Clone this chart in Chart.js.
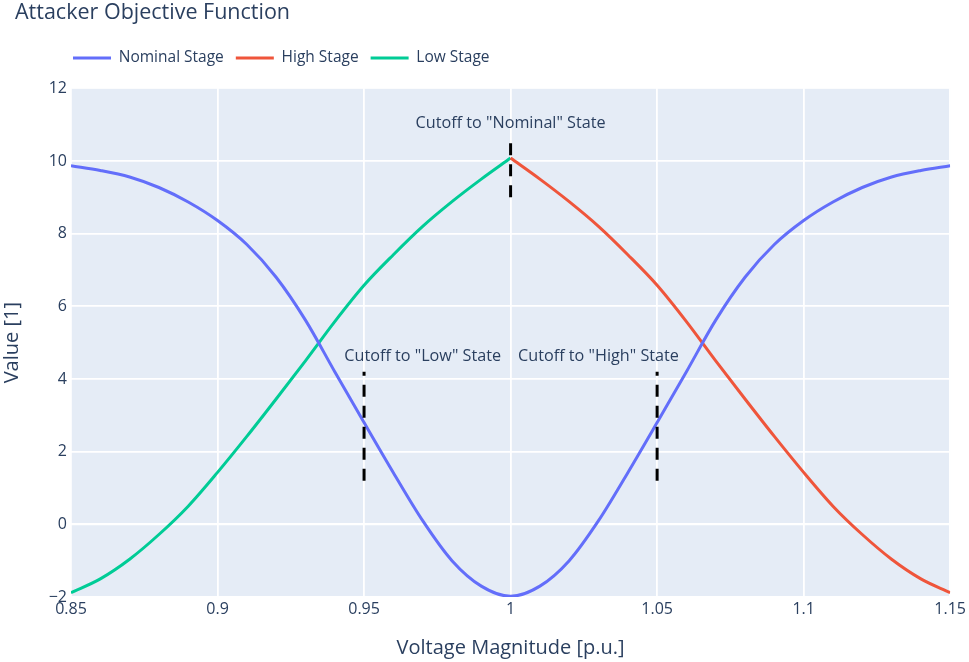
<!DOCTYPE html>
<html>
<head>
<meta charset="utf-8">
<script src="https://cdn.jsdelivr.net/npm/chart.js@4.4.1/dist/chart.umd.min.js"></script>
<style>
  html, body { margin: 0; padding: 0; background: #fff; }
</style>
</head>
<body>
<canvas id="objectiveChart" width="969" height="662"></canvas>
<script>
// Data
const voltage = [0.85, 0.86, 0.87, 0.88, 0.89, 0.90, 0.91, 0.92, 0.93, 0.94, 0.95, 0.96, 0.97, 0.98, 0.99, 1.00,
                 1.01, 1.02, 1.03, 1.04, 1.05, 1.06, 1.07, 1.08, 1.09, 1.10, 1.11, 1.12, 1.13, 1.14, 1.15];
const nominalStage = [9.87, 9.74, 9.56, 9.27, 8.87, 8.36, 7.7, 6.8, 5.62, 4.2, 2.8, 1.42, 0.1, -1.0, -1.7, -1.98,
                      -1.7, -1.0, 0.1, 1.42, 2.8, 4.2, 5.62, 6.8, 7.7, 8.36, 8.87, 9.27, 9.56, 9.74, 9.87];

const lowVoltage = [0.85, 0.86, 0.87, 0.88, 0.89, 0.90, 0.91, 0.92, 0.93, 0.94, 0.95, 0.96, 0.97, 0.98, 0.99, 1.00];
const lowStage = [-1.88, -1.5, -0.96, -0.28, 0.5, 1.43, 2.42, 3.45, 4.5, 5.58, 6.58, 7.42, 8.2, 8.88, 9.5, 10.08];

const highVoltage = [1.00, 1.01, 1.02, 1.03, 1.04, 1.05, 1.06, 1.07, 1.08, 1.09, 1.10, 1.11, 1.12, 1.13, 1.14, 1.15];
const highStage = [10.08, 9.5, 8.88, 8.2, 7.42, 6.58, 5.58, 4.5, 3.45, 2.42, 1.43, 0.5, -0.28, -0.96, -1.5, -1.88];

// cutoff markers (dashed vertical lines)
const cutoffX = [0.95, 1.05, 1.0];
const cutoffFrom = [1.2, 1.2, 9.0];
const cutoffTo = [4.2, 4.2, 10.7];

// annotation texts
const noteText = ['Cutoff to "Low" State', 'Cutoff to "High" State', 'Cutoff to "Nominal" State'];
const noteX = [0.97, 1.03, 1.0];
const noteY = [4.62, 4.62, 11.04];

const xTicks = [0.85, 0.9, 0.95, 1, 1.05, 1.1, 1.15];
const yTicks = [-2, 0, 2, 4, 6, 8, 10, 12];

const textColor = '#2a3f5f';
const fontFamily = "'Open Sans', sans-serif";

const toPoints = (xs, ys) => xs.map((x, i) => ({ x: x, y: ys[i] }));

const cutoffSets = cutoffX.map((x, i) => ({
  label: 'cutoff' + i,
  data: toPoints([x, x], [cutoffFrom[i], cutoffTo[i]]),
  borderColor: '#000',
  borderWidth: 3,
  borderDash: [12, 9],
  pointRadius: 0,
  order: -1
}));

// plot background
const plotBackground = {
  id: 'plotBackground',
  beforeDraw(chart) {
    const { ctx, chartArea: a } = chart;
    ctx.save();
    ctx.fillStyle = '#fff';
    ctx.fillRect(0, 0, chart.width, chart.height);
    ctx.fillStyle = '#E5ECF6';
    ctx.fillRect(a.left, a.top, a.right - a.left, a.bottom - a.top);
    ctx.restore();
  }
};

// put title and legend where the reference has them
const placeBoxes = {
  id: 'placeBoxes',
  afterLayout(chart) {
    const t = chart.titleBlock;
    const th = t.bottom - t.top;
    t.top = 13 - th / 2; t.bottom = t.top + th;
    t.left = 15; t.right = chart.width;
    const l = chart.legend;
    const lh = l.bottom - l.top;
    const pad = l.options.labels.padding;
    l.top = 58 - pad - l.options.labels.font.size / 2; l.bottom = l.top + lh;
    l.left = 73 - pad; l.right = chart.width;
  }
};

const notes = {
  id: 'notes',
  afterDatasetsDraw(chart) {
    const { ctx, scales } = chart;
    ctx.save();
    ctx.font = '16.2px ' + fontFamily;
    ctx.fillStyle = textColor;
    ctx.textAlign = 'center';
    ctx.textBaseline = 'middle';
    noteText.forEach((txt, i) => {
      ctx.fillText(txt, scales.x.getPixelForValue(noteX[i]), scales.y.getPixelForValue(noteY[i]));
    });
    ctx.restore();
  }
};

const ctx = document.getElementById('objectiveChart').getContext('2d');

new Chart(ctx, {
  type: 'line',
  data: {
    datasets: [
      {
        label: 'Nominal Stage',
        data: toPoints(voltage, nominalStage),
        borderColor: '#636efa',
        backgroundColor: '#636efa',
        borderWidth: 3,
        pointRadius: 0,
        cubicInterpolationMode: 'monotone'
      },
      {
        label: 'High Stage',
        data: toPoints(highVoltage, highStage),
        borderColor: '#EF553B',
        backgroundColor: '#EF553B',
        borderWidth: 3,
        pointRadius: 0,
        cubicInterpolationMode: 'monotone'
      },
      {
        label: 'Low Stage',
        data: toPoints(lowVoltage, lowStage),
        borderColor: '#00cc96',
        backgroundColor: '#00cc96',
        borderWidth: 3,
        pointRadius: 0,
        cubicInterpolationMode: 'monotone'
      },
      ...cutoffSets
    ]
  },
  options: {
    responsive: false,
    animation: false,
    layout: { padding: { top: 25, right: 18, left: 0, bottom: 0 } },
    plugins: {
      title: {
        display: true,
        text: 'Attacker Objective Function',
        align: 'start',
        color: textColor,
        font: { family: fontFamily, size: 21.5, weight: 'normal' },
        padding: 0
      },
      legend: {
        display: true,
        align: 'start',
        labels: {
          usePointStyle: true,
          pointStyle: 'line',
          pointStyleWidth: 38,
          padding: 12,
          color: textColor,
          font: { family: fontFamily, size: 15.5 },
          filter: item => item.datasetIndex < 3
        }
      },
      tooltip: { enabled: false }
    },
    scales: {
      x: {
        type: 'linear',
        min: 0.85,
        max: 1.15,
        afterBuildTicks: scale => { scale.ticks = xTicks.map(v => ({ value: v })); },
        afterFit: scale => { scale.height = 65; },
        ticks: {
          color: textColor,
          font: { family: fontFamily, size: 16 },
          padding: 3,
          maxRotation: 0,
          callback: v => String(v)
        },
        grid: { color: '#fff', lineWidth: 1.8, drawTicks: false },
        border: { display: false },
        title: {
          display: true,
          text: 'Voltage Magnitude [p.u.]',
          color: textColor,
          font: { family: fontFamily, size: 20 },
          padding: { top: 0, bottom: 2 }
        }
      },
      y: {
        min: -2,
        max: 12,
        afterBuildTicks: scale => { scale.ticks = yTicks.map(v => ({ value: v })); },
        afterFit: scale => { scale.width = 71; },
        ticks: {
          color: textColor,
          font: { family: fontFamily, size: 16 },
          padding: 4,
          callback: v => String(v).replace('-', '\u2212')
        },
        grid: {
          color: '#fff',
          lineWidth: c => (c.tick && c.tick.value === 0 ? 2.2 : 1.8),
          drawTicks: false
        },
        border: { display: false },
        title: {
          display: true,
          text: 'Value [1]',
          color: textColor,
          font: { family: fontFamily, size: 20 },
          padding: { top: 0, bottom: 0 }
        }
      }
    }
  },
  plugins: [plotBackground, placeBoxes, notes]
});
</script>
</body>
</html>
